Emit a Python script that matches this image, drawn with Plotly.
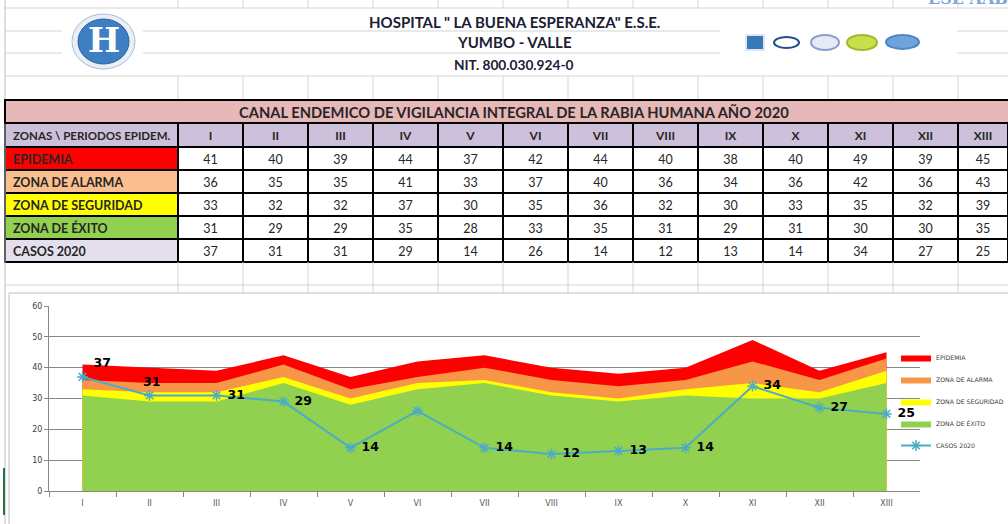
import plotly.graph_objects as go

W, H = 1008, 524

# ---------------- data ----------------
periods = ["I", "II", "III", "IV", "V", "VI", "VII", "VIII", "IX", "X", "XI", "XII", "XIII"]
epidemia = [41, 40, 39, 44, 37, 42, 44, 40, 38, 40, 49, 39, 45]
alarma = [36, 35, 35, 41, 33, 37, 40, 36, 34, 36, 42, 36, 43]
seguridad = [33, 32, 32, 37, 30, 35, 36, 32, 30, 33, 35, 32, 39]
exito = [31, 29, 29, 35, 28, 33, 35, 31, 29, 31, 30, 30, 35]
casos = [37, 31, 31, 29, 14, 26, 14, 12, 13, 14, 34, 27, 25]

zone_names = ["EPIDEMIA", "ZONA DE ALARMA", "ZONA DE SEGURIDAD", "ZONA DE ÉXITO", "CASOS 2020"]
zone_colors = ["#FF0000", "#F79646", "#FFFF00", "#92D050"]
row_fills = ["#FF0000", "#FABF8F", "#FFFF00", "#92D050", "#E4DFEC"]
line_color = "#4BACC6"

title_lines = ['HOSPITAL " LA BUENA ESPERANZA" E.S.E.', "YUMBO - VALLE", "NIT. 800.030.924-0"]
table_title = "CANAL ENDEMICO DE VIGILANCIA INTEGRAL DE LA RABIA HUMANA AÑO 2020"
corner_header = "ZONAS \\ PERIODOS EPIDEM."


def X(px):
    return px / W


def Y(py):
    return 1 - py / H


def nb(s):
    # non-breaking spaces keep each table cell on a single line
    return s.replace(" ", "\u00a0")


fig = go.Figure()

# ---------------- table ----------------
series = [epidemia, alarma, seguridad, exito, casos]
label_col = [nb(n) for n in zone_names]
value_cols = [[str(s[i]) for s in series] for i in range(len(periods))]
colwidths = [173] + [65] * 12 + [50]
fig.add_trace(go.Table(
    domain=dict(x=[X(5), 1], y=[Y(290), Y(123)]),
    columnwidth=colwidths,
    header=dict(
        values=[nb(corner_header)] + periods,
        fill_color="#CCC0DA",
        line=dict(color="black", width=2),
        align=["left"] + ["center"] * 13,
        font=dict(family="Lato", size=[11.5] + [12] * 13, color="#262626", weight="bold"),
        height=24,
    ),
    cells=dict(
        values=[label_col] + value_cols,
        fill_color=[row_fills] + [["white"] * 5] * 13,
        line=dict(color="black", width=2),
        align=["left"] + ["center"] * 13,
        font=dict(family="Lato", size=[12.5] + [12.5] * 13, color="#262626",
                  weight=["bold"] + ["normal"] * 13),
        height=23,
    ),
))

# ---------------- chart ----------------
for name, vals, col in zip(zone_names[:4], series[:4], zone_colors):
    fig.add_trace(go.Scatter(
        x=periods, y=vals, name=name, mode="lines",
        fill="tozeroy", fillcolor=col,
        line=dict(color=col, width=0),
        legendgroup=name, hoverinfo="skip",
    ))

labels = [str(v) for v in casos]
labels[5] = ""  # value VI is not labelled in the chart
positions = ["top right", "top center"] + ["middle right"] * 11
fig.add_trace(go.Scatter(
    x=periods, y=casos, name=zone_names[4], mode="lines+markers+text",
    line=dict(color=line_color, width=2),
    marker=dict(symbol="asterisk-open", size=9, line=dict(color=line_color, width=1.5), color=line_color),
    text=labels, textposition=positions, texttemplate=" %{text}",
    textfont=dict(family="DejaVu Sans", size=12.5, color="black", weight="bold"),
    legendgroup=zone_names[4],
))

fig.update_xaxes(
    type="category", categoryorder="array", categoryarray=periods,
    range=[-0.5, len(periods) - 0.5], domain=[X(49), X(920)],
    showline=True, linecolor="#868686", linewidth=1,
    ticks="outside", tickson="boundaries", ticklen=5, tickcolor="#868686",
    ticklabelstandoff=4, automargin=False,
    tickfont=dict(family="DejaVu Sans", size=8, color="#595959"),
    showgrid=False, zeroline=False,
)
fig.update_yaxes(
    range=[0, 60], dtick=10, domain=[Y(491), Y(306)],
    showgrid=True, gridcolor="#868686", gridwidth=1,
    showline=True, linecolor="#868686", linewidth=1,
    ticks="outside", ticklen=4, tickcolor="#868686", automargin=False,
    tickfont=dict(family="DejaVu Sans", size=8, color="#404040"),
    zeroline=False,
)

# ---------------- sheet decoration ----------------
grid = "#D4D4D4"
shapes = []
for yy in [8, 31, 53, 76, 285]:
    shapes.append(dict(type="line", xref="paper", yref="paper", x0=X(5), x1=1, y0=Y(yy), y1=Y(yy),
                       line=dict(color=grid, width=1)))
bounds = [178]
for w in colwidths[1:-1]:
    bounds.append(bounds[-1] + w)
for bx in bounds:
    for (a, b) in [(0, 8), (76, 99), (262, 293)]:
        shapes.append(dict(type="line", xref="paper", yref="paper", x0=X(bx), x1=X(bx), y0=Y(a), y1=Y(b),
                           line=dict(color=grid, width=1)))
shapes.append(dict(type="line", xref="paper", yref="paper", x0=X(5), x1=X(5), y0=Y(0), y1=Y(524),
                   line=dict(color="#BFBFBF", width=1)))
# logo boxes
shapes.append(dict(type="rect", xref="paper", yref="paper", x0=X(62), x1=X(143), y0=Y(74), y1=Y(10),
                   fillcolor="white", line=dict(width=0)))
shapes.append(dict(type="rect", xref="paper", yref="paper", x0=X(720), x1=X(957), y0=Y(75), y1=Y(9),
                   fillcolor="white", line=dict(width=0)))
# left logo
shapes.append(dict(type="circle", xref="paper", yref="paper", x0=X(72), x1=X(135), y0=Y(69), y1=Y(14),
                   fillcolor="#E9EFF6", line=dict(color="#A9BDD3", width=1)))
shapes.append(dict(type="circle", xref="paper", yref="paper", x0=X(78), x1=X(129), y0=Y(64), y1=Y(19),
                   fillcolor="#3E7FC4", line=dict(color="#2B5F99", width=1)))
# right logos
logo_specs = [(746, 764, 35, 50, "#3A78B8", "#DDE7F2", "rect"),
              (774, 799, 37, 48, "white", "#1F4E8C", "circle"),
              (811, 839, 35, 50, "#E6EAF5", "#8E9BD0", "circle"),
              (847, 877, 35, 50, "#C9E04A", "#9BBB2A", "circle"),
              (886, 919, 35, 49, "#6FA3DA", "#4C86C6", "circle")]
for x0, x1, y0, y1, fc, lc, kind in logo_specs:
    shapes.append(dict(type=kind, xref="paper", yref="paper", x0=X(x0), x1=X(x1), y0=Y(y1), y1=Y(y0),
                       fillcolor=fc, line=dict(color=lc, width=2)))
# table title row
shapes.append(dict(type="rect", xref="paper", yref="paper", x0=X(5), x1=X(1030), y0=Y(123), y1=Y(100),
                   fillcolor="#E6B8B7", line=dict(color="black", width=2)))
# chart frame
shapes.append(dict(type="rect", xref="paper", yref="paper", x0=X(9), x1=X(1012), y0=Y(528), y1=Y(293),
                   fillcolor="rgba(0,0,0,0)", line=dict(color="#BFBFBF", width=1)))
# green marker at left edge
shapes.append(dict(type="line", xref="paper", yref="paper", x0=X(4), x1=X(4), y0=Y(515), y1=Y(468),
                   line=dict(color="#217346", width=2)))

annotations = []
for txt, yy, sz in zip(title_lines, [22, 42, 65], [15, 15, 13.7]):
    annotations.append(dict(text="<b>%s</b>" % txt, x=X(514), y=Y(yy), xref="paper", yref="paper",
                            showarrow=False, xanchor="center", yanchor="middle",
                            font=dict(family="Lato", size=sz, color="#1B2033")))
annotations.append(dict(text="<b>%s</b>" % table_title, x=X(514), y=Y(112), xref="paper", yref="paper",
                        showarrow=False, xanchor="center", yanchor="middle",
                        font=dict(family="Lato", size=14.7, color="#262626")))
annotations.append(dict(text="<b>H</b>", x=X(104), y=Y(40), xref="paper", yref="paper",
                        showarrow=False, xanchor="center", yanchor="middle",
                        font=dict(family="DejaVu Serif", size=34, color="white")))
annotations.append(dict(text="<b>ESE AABD</b>", x=X(975), y=Y(-1), xref="paper", yref="paper",
                        showarrow=False, xanchor="center", yanchor="middle",
                        font=dict(family="DejaVu Serif", size=16, color="#7DA6D3")))

fig.update_layout(
    width=W, height=H,
    margin=dict(l=0, r=0, t=0, b=0, autoexpand=False),
    paper_bgcolor="white", plot_bgcolor="white",
    shapes=shapes, annotations=annotations,
    showlegend=True,
    legend=dict(x=X(896), y=Y(343), xanchor="left", yanchor="top",
                font=dict(family="DejaVu Sans", size=6.2, color="#404040"),
                bgcolor="rgba(0,0,0,0)", tracegroupgap=3, traceorder="grouped",
                itemwidth=30),
)

fig.write_html("out.html", config={"displayModeBar": False},
               post_script="document.body.style.margin='0px';")
